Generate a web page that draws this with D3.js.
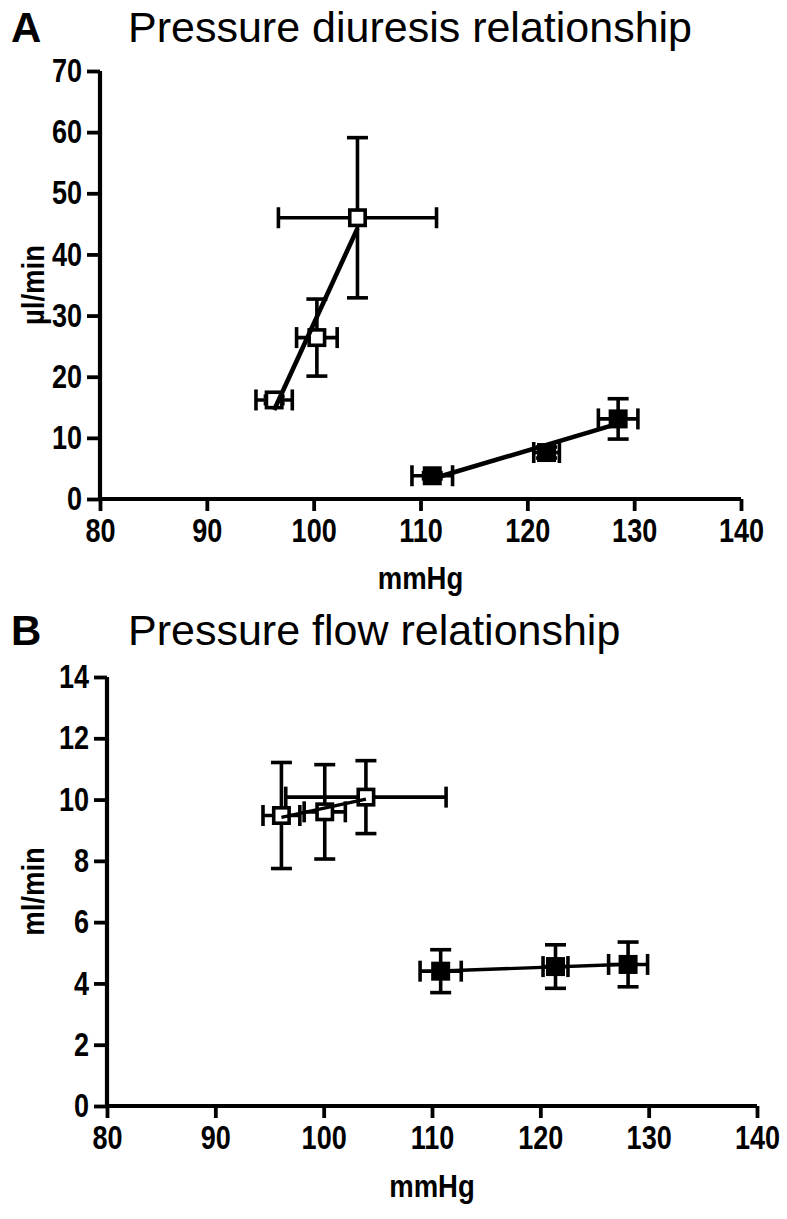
<!DOCTYPE html>
<html>
<head>
<meta charset="utf-8">
<script src="https://cdn.jsdelivr.net/npm/d3@7"></script>
<style>
  html, body { margin: 0; padding: 0; background: #fff; }
  svg { display: block; }
  text { font-family: "Liberation Sans", Arial, Helvetica, sans-serif; fill: #000; }
</style>
</head>
<body>
<svg id="chart" width="787" height="1219"></svg>
<script>
// ---------- Data ----------
// Panel A: pressure diuresis (mmHg vs µl/min)
const aOpenX    = [96.3, 100.3, 104.1];
const aOpenXErr = [1.7, 1.9, 7.4];
const aOpenY    = [16.2, 26.4, 46.0];
const aOpenYErr = [0.6, 6.3, 13.1];

const aFilledX    = [111.1, 121.8, 128.5];
const aFilledXErr = [1.9, 1.2, 1.85];
const aFilledY    = [3.8, 7.6, 13.1];
const aFilledYErr = [0.5, 0.9, 3.3];

// Panel B: pressure flow (mmHg vs ml/min)
const bOpenX    = [96.1, 100.1, 103.9];
const bOpenXErr = [1.7, 1.9, 7.4];
const bOpenY    = [9.48, 9.6, 10.08];
const bOpenYErr = [1.73, 1.54, 1.19];

const bFilledX    = [110.8, 121.4, 128.1];
const bFilledXErr = [1.9, 1.15, 1.8];
const bFilledY    = [4.4, 4.55, 4.62];
const bFilledYErr = [0.7, 0.71, 0.73];

const xTicks  = [80, 90, 100, 110, 120, 130, 140];
const aYTicks = [0, 10, 20, 30, 40, 50, 60, 70];
const bYTicks = [0, 2, 4, 6, 8, 10, 12, 14];

const titles = ["Pressure diuresis relationship", "Pressure flow relationship"];
const letters = ["A", "B"];
const yLabels = ["µl/min", "ml/min"];
const xLabel = "mmHg";

// ---------- Drawing ----------
const svg = d3.select("#chart");
const SX = 0.82;   // horizontal condensing of the bold labels

function zip(xs, xe, ys, ye) {
  return xs.map((x, i) => ({x, xe: xe[i], y: ys[i], ye: ye[i]}));
}

// least-squares fit line through the group's means
function fit(pts) {
  const mx = d3.mean(pts, p => p.x), my = d3.mean(pts, p => p.y);
  const sxy = d3.sum(pts, p => (p.x - mx) * (p.y - my));
  const sxx = d3.sum(pts, p => (p.x - mx) ** 2);
  const b = sxy / sxx, a = my - b * mx;
  const [x0, x1] = d3.extent(pts, p => p.x);
  return [{x: x0, y: a + b * x0}, {x: x1, y: a + b * x1}];
}

function panel(cfg) {
  const x = d3.scaleLinear().domain([80, 140]).range([cfg.left, cfg.right]);
  const y = d3.scaleLinear().domain([0, cfg.yMax]).range([cfg.bottom, cfg.top]);
  const g = svg.append("g");

  // letter + title
  g.append("text").attr("x", 11).attr("y", cfg.titleY)
    .style("font-size", "42px").style("font-weight", "bold").text(cfg.letter);
  g.append("text").attr("x", 128).attr("y", cfg.titleY)
    .style("font-size", "43px").text(cfg.title);

  // axes
  const xAxis = d3.axisBottom(x).tickValues(xTicks).tickSize(12).tickPadding(6).tickSizeOuter(0);
  const yAxis = d3.axisLeft(y).tickValues(cfg.yTicks).tickSize(13).tickPadding(5).tickSizeOuter(0);
  const gx = g.append("g").attr("transform", `translate(0,${cfg.bottom})`).call(xAxis);
  const gy = g.append("g").attr("transform", `translate(${cfg.left},0)`).call(yAxis);
  [gx, gy].forEach(a => {
    a.selectAll("path.domain").attr("stroke", "#000").attr("stroke-width", 4.2);
    a.selectAll(".tick line").attr("stroke", "#000").attr("stroke-width", 3.8);
    a.selectAll(".tick text").style("font-size", "33px").style("font-weight", "bold")
      .style("font-family", '"Liberation Sans", Arial, sans-serif').attr("fill", "#000");
  });
  gx.select("path.domain").attr("d", `M${cfg.left - 2},0H${cfg.right}`);
  gy.select("path.domain").attr("d", `M0,${cfg.top}V${cfg.bottom + 2}`);
  gx.selectAll(".tick text").attr("dy", "0.76em").attr("transform", `scale(${SX},1)`);
  gy.selectAll(".tick text").each(function() {
    const t = d3.select(this);
    t.attr("x", +t.attr("x") / SX).attr("transform", `scale(${SX},1)`);
  });

  // axis labels
  g.append("text")
    .attr("transform", `translate(${(cfg.left + cfg.right) / 2},${cfg.xLabelY}) scale(0.86,1)`)
    .attr("text-anchor", "middle").style("font-size", "32px").style("font-weight", "bold").text(xLabel);
  g.append("text")
    .attr("transform", `translate(${cfg.yLabelX},${(cfg.top + cfg.bottom) / 2}) rotate(-90) scale(0.86,1)`)
    .attr("text-anchor", "middle").style("font-size", "32px").style("font-weight", "bold").text(cfg.yLabel);

  const sets = [
    {d: cfg.open, filled: false},
    {d: cfg.filled, filled: true}
  ];
  const cap = 10.5;
  sets.forEach(s => {
    const eg = g.append("g").attr("stroke", "#000").attr("stroke-width", 3.6).attr("fill", "none");
    s.d.forEach(p => {
      const cx = x(p.x), cy = y(p.y);
      const x0 = x(p.x - p.xe), x1 = x(p.x + p.xe);
      const y0 = y(p.y - p.ye), y1 = y(p.y + p.ye);
      eg.append("line").attr("x1", x0).attr("x2", x1).attr("y1", cy).attr("y2", cy);
      eg.append("line").attr("x1", x0).attr("x2", x0).attr("y1", cy - cap).attr("y2", cy + cap);
      eg.append("line").attr("x1", x1).attr("x2", x1).attr("y1", cy - cap).attr("y2", cy + cap);
      eg.append("line").attr("x1", cx).attr("x2", cx).attr("y1", y0).attr("y2", y1);
      eg.append("line").attr("x1", cx - cap).attr("x2", cx + cap).attr("y1", y0).attr("y2", y0);
      eg.append("line").attr("x1", cx - cap).attr("x2", cx + cap).attr("y1", y1).attr("y2", y1);
    });
  });
  sets.forEach(s => {
    const sz = 19;
    g.append("g").selectAll("rect").data(s.d).join("rect")
      .attr("x", p => x(p.x) - sz / 2 + (s.filled ? 0 : 1.8))
      .attr("y", p => y(p.y) - sz / 2 + (s.filled ? 0 : 1.8))
      .attr("width", s.filled ? sz : sz - 3.6)
      .attr("height", s.filled ? sz : sz - 3.6)
      .attr("fill", s.filled ? "#000" : "#fff")
      .attr("stroke", s.filled ? "none" : "#000")
      .attr("stroke-width", 3.6);
  });
  const line = d3.line().x(p => x(p.x)).y(p => y(p.y));
  sets.forEach(s => {
    g.append("path").datum(fit(s.d)).attr("d", line)
      .attr("fill", "none").attr("stroke", "#000").attr("stroke-width", cfg.lineW);
  });
}

panel({
  letter: letters[0], title: titles[0], yLabel: yLabels[0],
  left: 100, right: 741, top: 71, bottom: 499, yMax: 70, yTicks: aYTicks,
  titleY: 42, xLabelY: 589, yLabelX: 44, lineW: 4.6,
  open: zip(aOpenX, aOpenXErr, aOpenY, aOpenYErr),
  filled: zip(aFilledX, aFilledXErr, aFilledY, aFilledYErr)
});

panel({
  letter: letters[1], title: titles[1], yLabel: yLabels[1],
  left: 107, right: 757, top: 677, bottom: 1106, yMax: 14, yTicks: bYTicks,
  titleY: 645, xLabelY: 1197, yLabelX: 44, lineW: 3.4,
  open: zip(bOpenX, bOpenXErr, bOpenY, bOpenYErr),
  filled: zip(bFilledX, bFilledXErr, bFilledY, bFilledYErr)
});
</script>
</body>
</html>
